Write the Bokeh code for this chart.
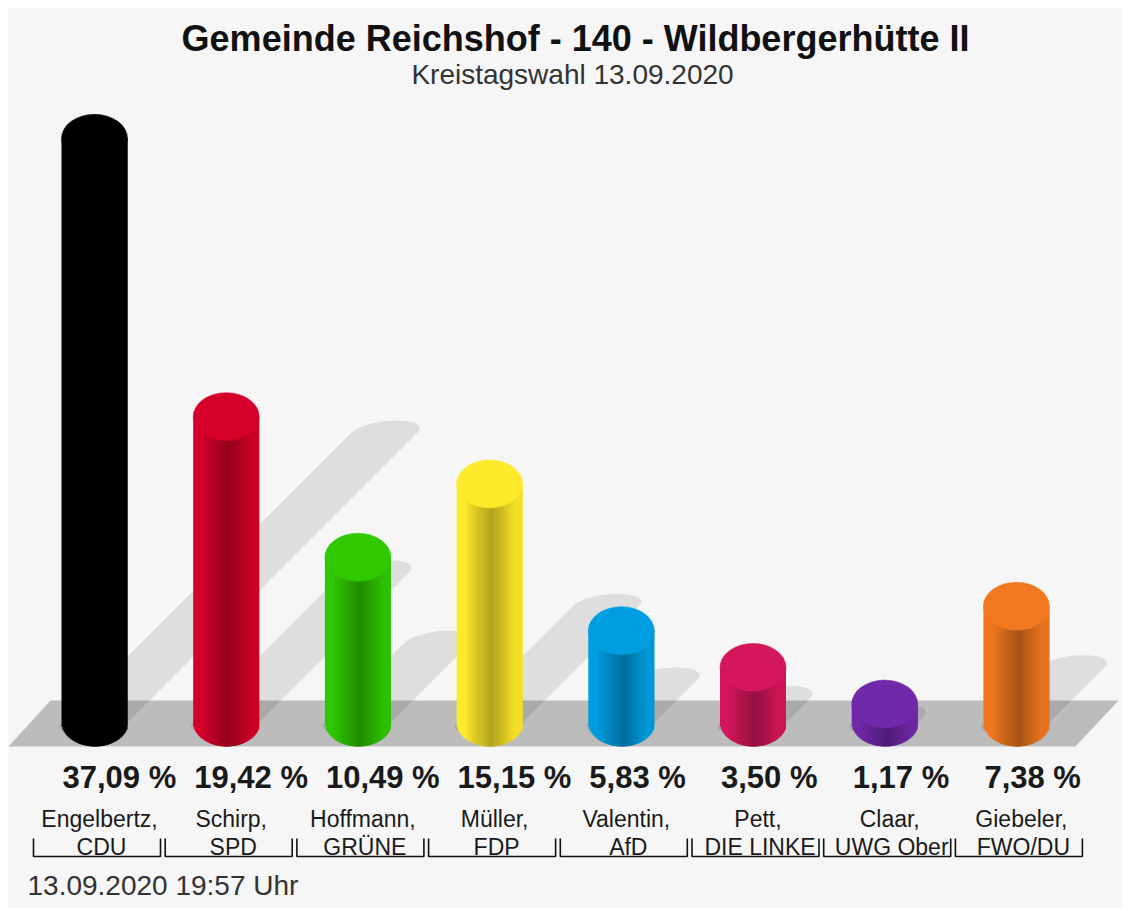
import numpy as np
from bokeh.plotting import figure
from bokeh.models import Range1d, ColumnDataSource
from bokeh.core.properties import value
from bokeh.embed import file_html
from bokeh.resources import INLINE

candidates = ["Engelbertz,", "Schirp,", "Hoffmann,", "Müller,", "Valentin,", "Pett,", "Claar,", "Giebeler,"]
parties = ["CDU", "SPD", "GRÜNE", "FDP", "AfD", "DIE LINKE", "UWG Ober", "FWO/DU"]
shares = [37.09, 19.42, 10.49, 15.15, 5.83, 3.50, 1.17, 7.38]
colours = ["#000000", "#d40029", "#30c800", "#ffe92b", "#009ee0", "#d4175a", "#7029a8", "#f07820"]
title_text = "Gemeinde Reichshof - 140 - Wildbergerhütte II"
subtitle_text = "Kreistagswahl 13.09.2020"
stamp_text = "13.09.2020 19:57 Uhr"

# page layout: reference-pixel mapping
W, H = 1114, 900
PX0, PXSTEP = 94.0, 131.7       # first bar centre, bar spacing
PY0, PYSCALE = 722.0, 15.75     # zero line, px per percent
RX, RY = 33.0, 24.0             # cylinder ellipse semi-axes (px)
SRY = 12.0                      # shadow ellipse semi-minor axis (px)
SHADOW = 7.9                    # shadow offset, px per percent
SHADOW_BASE = -3.0              # shadow offset at zero, px


def X(px):
    return (np.asarray(px, dtype=float) - PX0) / PXSTEP


def Y(py):
    return (PY0 - np.asarray(py, dtype=float)) / PYSCALE


p = figure(width=W, height=H, output_backend="svg", toolbar_location=None,
           x_range=Range1d(float(X(8)), float(X(8 + W))),
           y_range=Range1d(float(Y(8 + H)), float(Y(8))),
           min_border=0, background_fill_color="#f6f6f6", border_fill_color="#f6f6f6")
p.margin = (8, 0, 0, 8)
p.xaxis.visible = False
p.yaxis.visible = False
p.grid.visible = False
p.outline_line_color = None

idx = np.arange(len(shares))


def hull(points):
    pts = sorted(set(map(tuple, np.round(points, 3))))

    def half(seq):
        out = []
        for q in seq:
            while len(out) > 1 and (out[-1][0] - out[-2][0]) * (q[1] - out[-2][1]) - (out[-1][1] - out[-2][1]) * (q[0] - out[-2][0]) <= 0:
                out.pop()
            out.append(q)
        return out[:-1]
    return np.array(half(pts) + half(pts[::-1]))


def shadow_shape(i, v):
    t = np.linspace(0, 2 * np.pi, 72, endpoint=False)
    ex = RX * np.cos(t) + SRY * np.sin(t)     # sheared ellipse, px
    ey = SRY * np.sin(t)                      # upward px
    d = SHADOW * v + SHADOW_BASE
    base = np.c_[ex, ey]
    top = np.c_[ex + d, ey + d]
    h = hull(np.r_[base, top])
    return i + h[:, 0] / PXSTEP, h[:, 1] / PYSCALE


shapes = [shadow_shape(i, v) for i, v in zip(idx, shares)]
floor_xs = X([8, 50, 1118, 1075])
floor_ys = Y([746, 700, 700, 746])
p.patch(floor_xs, floor_ys, fill_color="#bcbcbc", line_color=None)
p.patches([list(s[0]) for s in shapes], [list(s[1]) for s in shapes],
          fill_color="#000000", fill_alpha=0.095, line_color=None)


def shade(col, m):
    r, g, b = int(col[1:3], 16), int(col[3:5], 16), int(col[5:7], 16)
    return "#%02x%02x%02x" % (int(r * m), int(g * m), int(b * m))


# cylinder bodies: overlapping strips shaded across the width, painted left to right
edges = np.linspace(-1, 1, int(2 * RX) + 1)
mids = (edges[:-1] + edges[1:]) / 2
lefts, rights, tops, bottoms, fills = [], [], [], [], []
for i, v, c in zip(idx, shares, colours):
    for k, (a, b, t) in enumerate(zip(edges[:-1], edges[1:], mids)):
        m = 0.74 + 0.26 * min(1.0, abs(t) / 0.75) ** 1.2 - (0.04 if t > 0 else 0.0)
        right = edges[min(k + 2, len(edges) - 1)]
        lefts.append(i + a * RX / PXSTEP)
        rights.append(i + right * RX / PXSTEP)
        tops.append(v)
        bottoms.append(-RY * np.sqrt(max(0.0, 1 - t * t)) / PYSCALE)
        fills.append(shade(c, m))
strips = ColumnDataSource(dict(left=lefts, right=rights, top=tops, bottom=bottoms, fill=fills))
p.quad(left="left", right="right", top="top", bottom="bottom", source=strips,
       fill_color="fill", line_color=None)

# cylinder caps
p.ellipse(x=list(idx), y=shares, width=2 * RX, height=2 * RY, width_units="screen",
          height_units="screen", fill_color=colours, line_color=colours, line_width=0.5)

# titles
TXT = "#1a1a1a"
FONT = value("Liberation Sans")
p.text(x=[float(X(575))], y=[float(Y(38))], text=[title_text], text_align="center", text_baseline="middle",
       text_font=FONT, text_font_style="bold", text_font_size="36px", text_color="#111111")
p.text(x=[float(X(572))], y=[float(Y(74))], text=[subtitle_text], text_align="center", text_baseline="middle",
       text_font=FONT, text_font_size="28px", text_color="#333333")

# value labels
p.text(x=list(idx - 32 / PXSTEP), y=[float(Y(777))] * len(idx),
       text=[f"{v:.2f}".replace(".", ",") + " %" for v in shares],
       text_align="left", text_baseline="middle", text_font=FONT,
       text_font_style="bold", text_font_size="31px", text_color=TXT)

# candidate and party labels
p.text(x=list(idx + 5 / PXSTEP), y=[float(Y(818))] * len(idx), text=candidates,
       text_align="center", text_baseline="middle", text_font=FONT,
       text_font_size="23px", text_color=TXT)
p.text(x=list(idx + 7 / PXSTEP), y=[float(Y(846))] * len(idx), text=parties,
       text_align="center", text_baseline="middle", text_font=FONT,
       text_font_size="23px", text_color=TXT)

# brackets
bx = [[i - 61 / PXSTEP, i - 61 / PXSTEP, i + 66 / PXSTEP, i + 66 / PXSTEP] for i in idx]
by = [[float(Y(838)), float(Y(856)), float(Y(856)), float(Y(838))] for _ in idx]
p.multi_line(bx, by, line_color="#111111", line_width=1.6)

# time stamp
p.text(x=[float(X(27))], y=[float(Y(885))], text=[stamp_text], text_align="left", text_baseline="middle",
       text_font=FONT, text_font_size="28px", text_color="#333333")

open("out.html", "w").write(file_html(p, INLINE))
